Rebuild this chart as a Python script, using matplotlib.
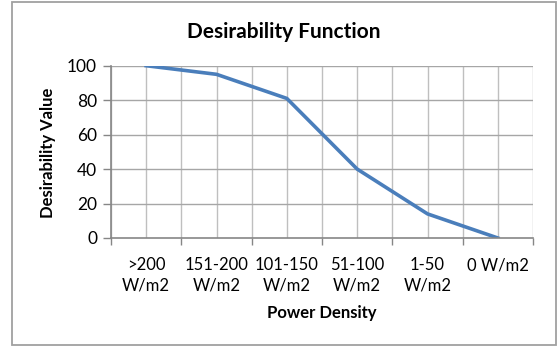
import matplotlib
matplotlib.use("Agg")
import matplotlib.pyplot as plt
from matplotlib.patches import Rectangle
import numpy as np

# chart data
categories = [">200\nW/m2", "151-200\nW/m2", "101-150\nW/m2", "51-100\nW/m2", "1-50\nW/m2", "0 W/m2"]
desirability = [100, 95, 81, 40, 14, 0]

plt.rcParams['font.family'] = ['Lato', 'DejaVu Sans']

fig = plt.figure(figsize=(5.58, 3.48), dpi=100)
ax = fig.add_axes([111/558, 1 - 238/348, 422/558, (238 - 65.7)/348])

x = np.arange(len(categories))
ax.plot(x, desirability, color='#4a7ebb', linewidth=2.6, solid_joinstyle='round')

ax.set_xlim(-0.5, len(categories) - 0.5)
ax.set_ylim(0, 100)
ax.set_yticks(range(0, 101, 20))

# ticks sit on category boundaries, labels under the points
ax.set_xticks(np.arange(-0.5, len(categories), 1.0))
ax.set_xticklabels([])
ax.set_xticks(x, minor=True)
ax.set_xticklabels(categories, minor=True, fontsize=12, linespacing=1.35)
ax.tick_params(axis='x', which='minor', length=0, pad=14)
ax.tick_params(axis='x', which='major', length=5, color='#868686', width=1)
ax.tick_params(axis='y', length=6, color='#868686', width=1, labelsize=12.5, pad=4)

# gridlines every half category and every 20 units
for gx in np.arange(-0.5, len(categories) + 0.01, 0.5):
    ax.axvline(gx, color='#bfbfbf', linewidth=1, zorder=0)
for gy in range(20, 101, 20):
    ax.axhline(gy, color='#a6a6a6', linewidth=1, zorder=0)

for side in ['top', 'right']:
    ax.spines[side].set_visible(False)
for side in ['left', 'bottom']:
    ax.spines[side].set_color('#868686')
    ax.spines[side].set_linewidth(1.2)

fig.text(284/558, 1 - 31.7/348, 'Desirability Function', ha='center', va='center',
         fontsize=15, fontweight='bold')
fig.text(48/558, 1 - 153/348, 'Desirability Value', ha='center', va='center',
         rotation=90, fontsize=12, fontweight='bold')
fig.text(322/558, 1 - 313/348, 'Power Density', ha='center', va='center',
         fontsize=12, fontweight='bold')

# chart border
fig.patches.append(Rectangle((12/558, 1 - 345/348), 544/558, 343/348, transform=fig.transFigure,
                             fill=False, edgecolor='#a0a0a0', linewidth=1.3))

fig.savefig('out.png', dpi=100)
